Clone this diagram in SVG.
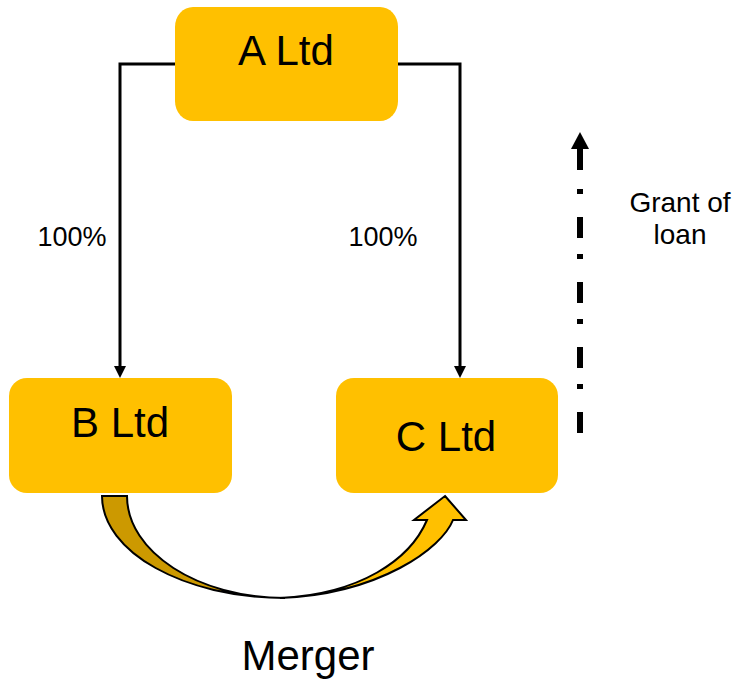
<svg xmlns="http://www.w3.org/2000/svg" width="744" height="680" viewBox="0 0 744 680">
  <style>
    .box { fill: #FFC000; }
    .lbl { font-family: "Liberation Sans", Arial, sans-serif; fill: #000; text-anchor: middle; }
    .big { font-size: 42px; }
    .pct { font-size: 27px; }
    .small { font-size: 28px; }
    .conn { fill: none; stroke: #000; stroke-width: 3; }
    .curve { stroke: #000; stroke-width: 2; stroke-linejoin: miter; }
  </style>
  <defs>
    <marker id="arr" markerUnits="userSpaceOnUse" markerWidth="14" markerHeight="12" refX="2" refY="6" orient="auto" viewBox="0 0 14 12">
      <path d="M0,0 L12,6 L0,12 Z" fill="#000"/>
    </marker>
  </defs>

  <g id="connectors">
    <path class="conn" d="M175,64 H120 V368" marker-end="url(#arr)"/>
    <path class="conn" d="M398,64 H460 V368" marker-end="url(#arr)"/>
    <g id="grant-arrow">
      <polygon points="580,132 589,149 571,149" fill="#000"/>
      <rect x="577" y="147" width="6" height="23" fill="#000"/>
      <line x1="580" y1="189" x2="580" y2="434" stroke="#000" stroke-width="6" stroke-dasharray="5 23 21 16"/>
    </g>
    <g id="merger-arrow">
      <path class="curve" fill="#CC9900" d="M102,496 L127,496 C127,552 198,598 285,598 C184,598 102,552 102,496 Z"/>
      <path class="curve" fill="#FFC000" d="M445,496 L466,520 L453,520 C442,548 380,594 280,598 C360,594 410,560 427,520 L414,520 Z"/>
    </g>
  </g>

  <g id="node-a">
    <rect class="box" x="175" y="7" width="223" height="114" rx="18" ry="20"/>
    <text class="lbl big" x="286" y="65">A Ltd</text>
  </g>
  <g id="node-b">
    <rect class="box" x="9" y="378" width="223" height="115" rx="18" ry="18"/>
    <text class="lbl big" x="120" y="437">B Ltd</text>
  </g>
  <g id="node-c">
    <rect class="box" x="336" y="378" width="222" height="115" rx="18" ry="18"/>
    <text class="lbl big" x="446" y="451">C Ltd</text>
  </g>

  <g id="labels">
    <text class="lbl pct" x="72" y="246">100%</text>
    <text class="lbl pct" x="383" y="246">100%</text>
    <text class="lbl small" x="680" y="212">Grant of</text>
    <text class="lbl small" x="680" y="244">loan</text>
    <text class="lbl big" x="308" y="670">Merger</text>
  </g>
</svg>
